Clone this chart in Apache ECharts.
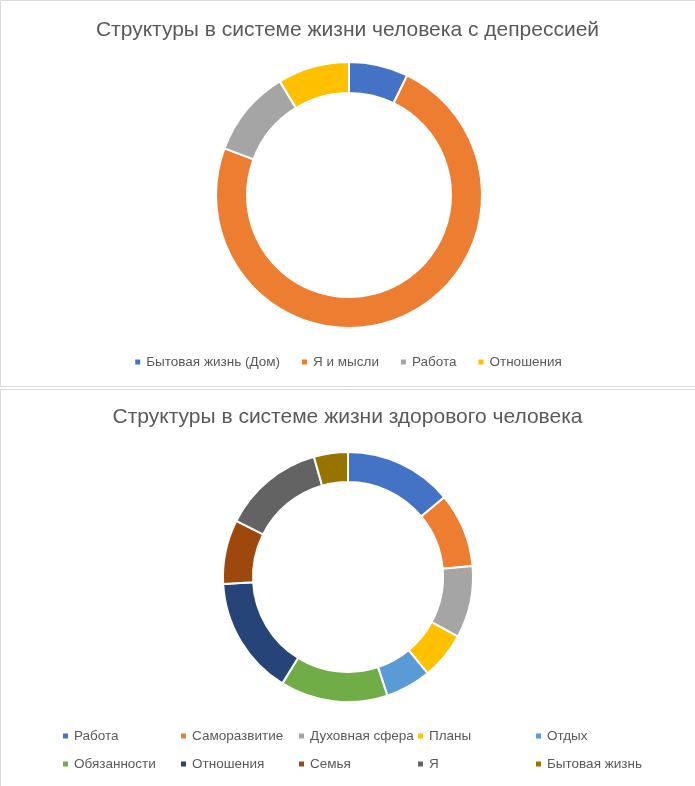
<!DOCTYPE html>
<html>
<head>
<meta charset="utf-8">
<script src="https://cdn.jsdelivr.net/npm/echarts@6/dist/echarts.min.js"></script>
<style>
html,body{margin:0;padding:0;background:#fff;}
#main{width:695px;height:786px;}
</style>
</head>
<body>
<div id="main"></div>
<script>
// top chart: depression
var depNames = ['Бытовая жизнь (Дом)', 'Я и мысли', 'Работа', 'Отношения'];
var depValues = [7.2, 73.5, 10.6, 8.7];
var depColors = ['#4472C4', '#ED7D31', '#A5A5A5', '#FFC000'];

// bottom chart: healthy
var healthyNames = ['Работа', 'Саморазвитие', 'Духовная сфера', 'Планы', 'Отдых',
    'Обязанности', 'Отношения', 'Семья', 'Я', 'Бытовая жизнь'];
var healthyValues = [14.0, 9.6, 9.3, 6.1, 5.9, 13.9, 15.3, 8.3, 13.2, 4.4];
var healthyColors = ['#4472C4', '#ED7D31', '#A5A5A5', '#FFC000', '#5B9BD5',
    '#70AD47', '#264478', '#9E480E', '#636363', '#997300'];

var font = 'Liberation Sans';
var grey = '#595959';
// x of each legend column (bottom chart)
var colLeft = [61, 179, 297, 416, 534];

function pieData(names, values, colors){
    var out = [];
    for(let i=0;i<names.length;i++){
        out.push({name: names[i], value: values[i], itemStyle: {color: colors[i]}});
    }
    return out;
}

var chart = echarts.init(document.getElementById('main'));
var legends = [
    {data: depNames.map(function(n, i){ return {name: n, itemStyle: {color: depColors[i]}}; }),
        left: 'center', top: 350, itemWidth: 7, itemHeight: 7, itemGap: 20, icon: 'rect',
        textStyle: {fontFamily: font, fontSize: 13.5, color: grey}}
];
// one vertical legend per column, two rows each
for(let c=0;c<5;c++){
    legends.push({
        data: [
            {name: healthyNames[c], itemStyle: {color: healthyColors[c]}},
            {name: healthyNames[c+5], itemStyle: {color: healthyColors[c+5]}}
        ],
        orient: 'vertical', left: colLeft[c], top: 729, padding: 0,
        itemWidth: 7, itemHeight: 7, itemGap: 14, icon: 'rect',
        textStyle: {fontFamily: font, fontSize: 13.5, color: grey}
    });
}

var option = {
    animation: false,
    graphic: [
        {type: 'rect', shape: {x: 0.5, y: 0.5, width: 700, height: 386},
            style: {fill: 'none', stroke: '#d9d9d9', lineWidth: 1}},
        {type: 'rect', shape: {x: 0.5, y: 389.5, width: 700, height: 420},
            style: {fill: 'none', stroke: '#d9d9d9', lineWidth: 1}}
    ],
    title: [
        {text: 'Структуры в системе жизни человека с депрессией', left: 'center', top: 15,
            textStyle: {fontFamily: font, fontSize: 21, fontWeight: 'normal', color: grey}},
        {text: 'Структуры в системе жизни здорового человека', left: 'center', top: 402,
            textStyle: {fontFamily: font, fontSize: 21, fontWeight: 'normal', color: grey}}
    ],
    legend: legends,
    series: [
        {
            type: 'pie', center: [349, 195], radius: [102, 133], startAngle: 90,
            label: {show: false}, labelLine: {show: false}, silent: true,
            itemStyle: {borderColor: '#fff', borderWidth: 2},
            data: pieData(depNames, depValues, depColors)
        },
        {
            type: 'pie', center: [348, 577], radius: [95, 125], startAngle: 90,
            label: {show: false}, labelLine: {show: false}, silent: true,
            itemStyle: {borderColor: '#fff', borderWidth: 2},
            data: pieData(healthyNames, healthyValues, healthyColors)
        }
    ]
};
chart.setOption(option, true);
window.onresize = chart.resize;
</script>
</body>
</html>
